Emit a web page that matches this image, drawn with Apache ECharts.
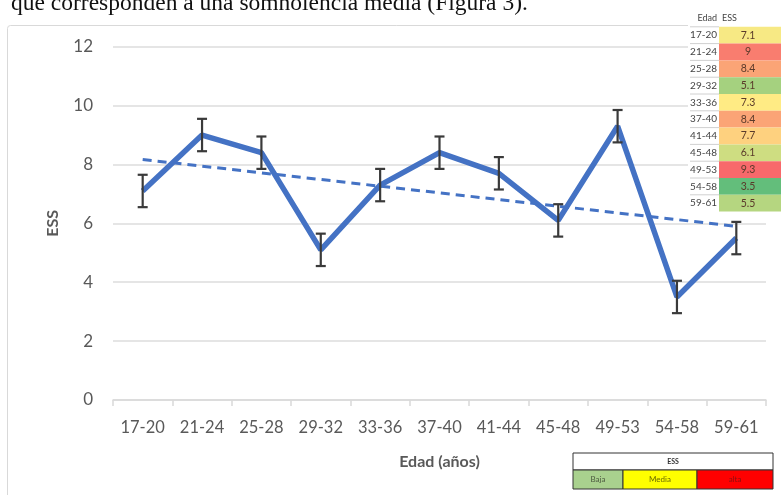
<!DOCTYPE html>
<html>
<head>
<meta charset="utf-8">
<script src="https://cdn.jsdelivr.net/npm/echarts@6/dist/echarts.min.js"></script>
<style>
  html, body { margin: 0; padding: 0; background: #fff; }
  #chart { width: 781px; height: 495px; }
</style>
</head>
<body>
<div id="chart"></div>
<script>
// Age groups and mean ESS score per group
const ageGroups = ['17-20', '21-24', '25-28', '29-32', '33-36', '37-40', '41-44', '45-48', '49-53', '54-58', '59-61'];
const essValues = [7.1, 9, 8.4, 5.1, 7.3, 8.4, 7.7, 6.1, 9.3, 3.5, 5.5];
// Error bar half-width (same for every group)
const essError = 0.55;
// Linear trend: value at first and last group
const trendEnds = [8.17, 5.9];
// Y axis ticks
const yTicks = [0, 2, 4, 6, 8, 10, 12];
// Severity legend
const severityLabels = ['Baja', 'Media', 'alta'];

const FONT = 'Lato, "Open Sans", sans-serif';
const chart = echarts.init(document.getElementById('chart'), null, { renderer: 'canvas' });

// Three-colour scale (green - yellow - red) for the table cells
function hexToRgb(h) { return [parseInt(h.slice(1, 3), 16), parseInt(h.slice(3, 5), 16), parseInt(h.slice(5, 7), 16)]; }
function mix(a, b, t) {
  const A = hexToRgb(a), B = hexToRgb(b);
  return 'rgb(' + A.map((v, i) => Math.round(v + (B[i] - v) * t)).join(',') + ')';
}
const sorted = essValues.slice().sort((a, b) => a - b);
const vMin = sorted[0], vMax = sorted[sorted.length - 1], vMid = sorted[Math.floor(sorted.length / 2)];
function scaleColor(v) {
  if (v <= vMid) return mix('#63BE7B', '#FFEB84', (v - vMin) / (vMid - vMin));
  return mix('#FFEB84', '#F8696B', (v - vMid) / (vMax - vMid));
}

// Trend series: only the two ends, joined across the gaps
const trendData = ageGroups.map((_, i) => i === 0 ? trendEnds[0] : (i === ageGroups.length - 1 ? trendEnds[1] : null));

const graphics = [];
// chart area frame
graphics.push({
  type: 'rect', shape: { x: 7.5, y: 25.5, width: 800, height: 520, r: 3 },
  style: { fill: 'none', stroke: '#d9d9d9', lineWidth: 1 }, z: 0, silent: true
});
// heading sentence, partially visible
graphics.push({
  type: 'text', left: 11, top: -8,
  style: { text: 'que corresponden a una somnolencia media (Figura 3).', font: '23.5px "Liberation Serif", "DejaVu Serif", serif', fill: '#111' },
  z: 10
});

// Table of values in the top-right corner
const tblX = 688, tblLabelRight = 717, cellX = 719, cellW = 62, rowH = 16.8, tblTop = 10;
graphics.push({
  type: 'rect', shape: { x: tblX, y: tblTop, width: 781 - tblX, height: rowH * (ageGroups.length + 1) + 2 },
  style: { fill: '#fff' }, z: 20
});
graphics.push({ type: 'text', style: { x: tblLabelRight, y: tblTop + rowH / 2, text: 'Edad', align: 'right', verticalAlign: 'middle', font: '9px ' + FONT, fill: '#444' }, z: 22 });
graphics.push({ type: 'text', style: { x: cellX + 3, y: tblTop + rowH / 2, text: 'ESS', align: 'left', verticalAlign: 'middle', font: '9px ' + FONT, fill: '#444' }, z: 22 });
ageGroups.forEach((g, i) => {
  const y = tblTop + rowH * (i + 1);
  graphics.push({ type: 'rect', shape: { x: cellX, y: y, width: cellW, height: rowH }, style: { fill: scaleColor(essValues[i]) }, z: 21 });
  graphics.push({ type: 'line', shape: { x1: tblX + 2, y1: y, x2: cellX, y2: y }, style: { stroke: '#d0d0d0', lineWidth: 1 }, z: 21 });
  graphics.push({ type: 'text', style: { x: tblLabelRight, y: y + rowH / 2, text: g, align: 'right', verticalAlign: 'middle', font: '10px ' + FONT, fill: '#444' }, z: 22 });
  graphics.push({ type: 'text', style: { x: cellX + 29, y: y + rowH / 2, text: String(essValues[i]), align: 'center', verticalAlign: 'middle', font: '10.5px ' + FONT, fill: '#5a3a2a' }, z: 22 });
});

// Severity legend box at the bottom
const lgX = 573, lgY = 453, lgW = 200, lgHead = 17, lgRow = 19;
const lgCols = [[573, 50, '#A9D18E', '#4d5a40'], [623, 74, '#FFFF00', '#6b6b00'], [697, 76, '#FF0000', '#8a1010']];
graphics.push({ type: 'rect', shape: { x: lgX, y: lgY, width: lgW, height: lgHead }, style: { fill: '#fff', stroke: '#333', lineWidth: 1 }, z: 20 });
graphics.push({ type: 'text', style: { x: lgX + lgW / 2, y: lgY + lgHead / 2, text: 'ESS', align: 'center', verticalAlign: 'middle', font: 'bold 7px ' + FONT, fill: '#333' }, z: 22 });
severityLabels.forEach((lab, i) => {
  const c = lgCols[i];
  graphics.push({ type: 'rect', shape: { x: c[0], y: lgY + lgHead, width: c[1], height: lgRow }, style: { fill: c[2], stroke: '#333', lineWidth: 1 }, z: 20 });
  graphics.push({ type: 'text', style: { x: c[0] + c[1] / 2, y: lgY + lgHead + lgRow / 2, text: lab, align: 'center', verticalAlign: 'middle', font: '8px ' + FONT, fill: c[3] }, z: 22 });
});

const option = {
  backgroundColor: '#fff',
  animation: false,
  grid: { left: 113, right: 15, top: 46.7, bottom: 95 },
  xAxis: {
    type: 'category',
    data: ageGroups,
    boundaryGap: true,
    name: 'Edad (años)',
    nameLocation: 'middle',
    nameGap: 54,
    nameTextStyle: { fontFamily: FONT, fontSize: 16, fontWeight: 'bold', color: '#595959' },
    axisLine: { lineStyle: { color: '#d9d9d9', width: 1.5 } },
    axisTick: { show: true, length: 6, lineStyle: { color: '#d9d9d9', width: 1.5 } },
    axisLabel: { interval: 0, fontFamily: FONT, fontSize: 16.5, color: '#595959', margin: 19 }
  },
  yAxis: {
    type: 'value',
    min: yTicks[0],
    max: yTicks[yTicks.length - 1],
    interval: yTicks[1] - yTicks[0],
    name: 'ESS',
    nameLocation: 'middle',
    nameGap: 52,
    nameRotate: 90,
    nameTextStyle: { fontFamily: FONT, fontSize: 16, fontWeight: 'bold', color: '#595959' },
    axisLine: { show: false },
    axisTick: { show: false },
    axisLabel: { fontFamily: FONT, fontSize: 17, color: '#595959', margin: 20 },
    splitLine: { lineStyle: { color: '#dcdcdc', width: 1.5 } }
  },
  series: [
    {
      name: 'Tendencia',
      type: 'line',
      data: trendData,
      connectNulls: true,
      symbol: 'none',
      lineStyle: { color: '#4472C4', width: 3, type: [9, 6] },
      z: 2
    },
    {
      name: 'ESS',
      type: 'line',
      data: essValues,
      symbol: 'none',
      lineStyle: { color: '#4472C4', width: 5.5 },
      z: 3
    },
    {
      name: 'Error',
      type: 'custom',
      data: essValues.map((v, i) => [i, v - essError, v + essError]),
      renderItem: function (params, api) {
        const lo = api.coord([api.value(0), api.value(1)]);
        const hi = api.coord([api.value(0), api.value(2)]);
        const half = 5;
        const st = { stroke: '#3a3a3a', lineWidth: 2.2 };
        return {
          type: 'group',
          children: [
            { type: 'line', shape: { x1: lo[0], y1: lo[1], x2: hi[0], y2: hi[1] }, style: st },
            { type: 'line', shape: { x1: lo[0] - half, y1: lo[1], x2: lo[0] + half, y2: lo[1] }, style: st },
            { type: 'line', shape: { x1: hi[0] - half, y1: hi[1], x2: hi[0] + half, y2: hi[1] }, style: st }
          ]
        };
      },
      z: 4
    }
  ],
  graphic: graphics
};
chart.setOption(option);
</script>
</body>
</html>
